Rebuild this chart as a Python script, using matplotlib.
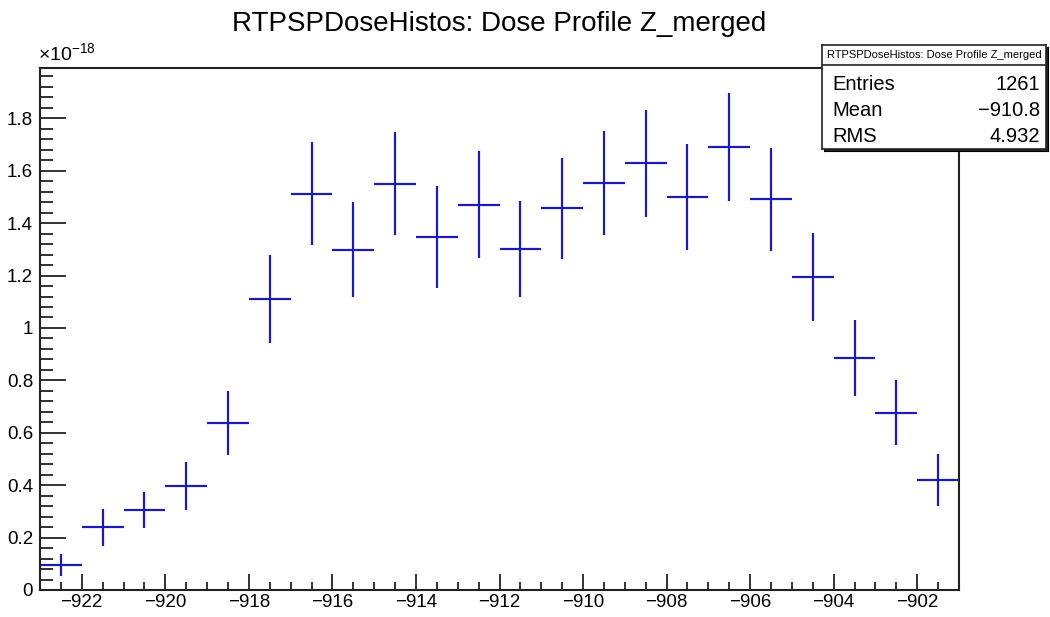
import matplotlib
matplotlib.use("Agg")
import matplotlib.pyplot as plt
from matplotlib.ticker import MultipleLocator, FuncFormatter
import numpy as np

plt.rcParams['font.family'] = ['Liberation Sans', 'DejaVu Sans']
plt.rcParams['mathtext.fontset'] = 'custom'
plt.rcParams['mathtext.rm'] = 'Liberation Sans'
plt.rcParams['mathtext.it'] = 'Liberation Sans:italic'

# histogram Z_merged, 22 bins of 1 mm between -923 and -901 (dose in 1e-18 units)
z_lo, z_hi = -923, -901
dose = [0.095, 0.239, 0.304, 0.398, 0.637, 1.110, 1.513, 1.298, 1.551, 1.347, 1.471,
        1.303, 1.457, 1.553, 1.629, 1.499, 1.690, 1.491, 1.194, 0.885, 0.676, 0.420]
dose_err = [0.042, 0.070, 0.069, 0.092, 0.122, 0.167, 0.198, 0.181, 0.197, 0.193, 0.205,
            0.183, 0.193, 0.200, 0.204, 0.202, 0.207, 0.197, 0.167, 0.146, 0.124, 0.099]
stats_labels = ['Entries', 'Mean', 'RMS']
stats_values = ['1261', '\u2212910.8', '4.932']
hist_title = 'RTPSPDoseHistos: Dose Profile Z_merged'

edges = np.linspace(z_lo, z_hi, len(dose) + 1)
centers = 0.5 * (edges[:-1] + edges[1:])
half_w = 0.5 * np.diff(edges)

W, H = 1050, 617
fig = plt.figure(figsize=(W / 100, H / 100), dpi=100)
ax = fig.add_axes([40 / W, (H - 590) / H, 919 / W, 522 / H])

ax.errorbar(centers, dose, xerr=half_w, yerr=dose_err, fmt='none',
            ecolor='#1c1cb4', elinewidth=1.6, capsize=0)

ax.set_xlim(z_lo, z_hi)
ax.set_ylim(0, 1.992)

ax.xaxis.set_major_locator(MultipleLocator(2))
ax.xaxis.set_minor_locator(MultipleLocator(0.5))
ax.yaxis.set_major_locator(MultipleLocator(0.2))
ax.yaxis.set_minor_locator(MultipleLocator(0.04))
ax.yaxis.set_major_formatter(FuncFormatter(lambda v, p: '0' if abs(v) < 1e-9 else f'{v:g}'))

ax.tick_params(axis='both', which='both', direction='in', top=False, right=False,
               colors='#222222', width=1.3, labelsize=13.5, labelcolor='black')
ax.tick_params(axis='y', which='major', length=19, pad=5)
ax.tick_params(axis='y', which='minor', length=9.5)
ax.tick_params(axis='x', which='major', length=11.5, pad=3)
ax.tick_params(axis='x', which='minor', length=5.8)
for s in ax.spines.values():
    s.set_linewidth(1.5)
    s.set_color('#222222')

ax.text(-0.002, 1.008, r'$\times10^{-18}$', transform=ax.transAxes,
        ha='left', va='bottom', fontsize=14)

fig.text(0.5 * (40 + 959) / W, 1 - 24 / H, hist_title, ha='center', va='center', fontsize=20)

# statistics box in the upper right corner
bx0, bx1, by0, by1 = 822, 1046, 45, 149
shadow = fig.add_axes([(bx0 + 2) / W, (H - by1 - 2) / H, (bx1 - bx0) / W, (by1 - by0) / H])
shadow.set_facecolor('#222222')
shadow.set_xticks([]); shadow.set_yticks([])
box = fig.add_axes([bx0 / W, (H - by1) / H, (bx1 - bx0) / W, (by1 - by0) / H])
box.set_facecolor('white')
box.set_xlim(0, 1); box.set_ylim(0, 1)
box.set_xticks([]); box.set_yticks([])
for s in box.spines.values():
    s.set_linewidth(1.2)
    s.set_color('#222222')
sep = 1 - (65 - by0) / (by1 - by0)
box.axhline(sep, color='#222222', lw=1.2)
box.text(0.5, (1 + sep) / 2, hist_title, ha='center', va='center', fontsize=8)
row_y = [85, 110, 136]
for lab, val, ry in zip(stats_labels, stats_values, row_y):
    yy = 1 - (ry - by0) / (by1 - by0)
    box.text(0.045, yy, lab, ha='left', va='center', fontsize=14.5)
    box.text(0.975, yy, val, ha='right', va='center', fontsize=14.5)

fig.savefig('out.png', dpi=100)
